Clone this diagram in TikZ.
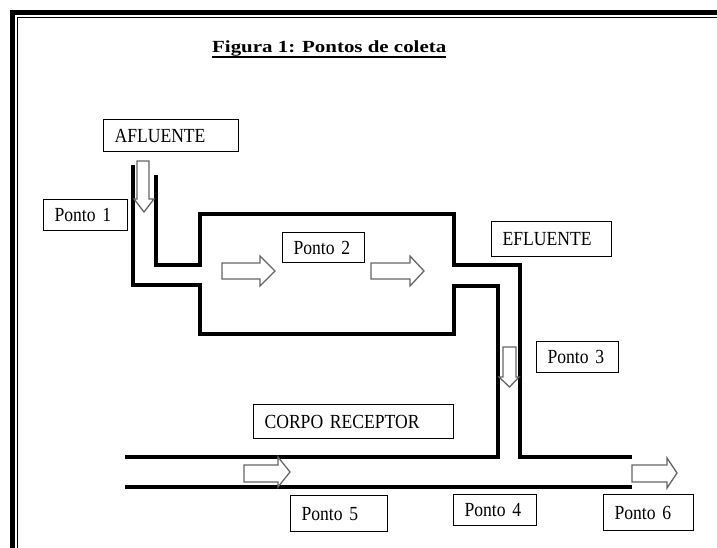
\documentclass[tikz,border=0pt]{standalone}
\usepackage{fontspec}
\setmainfont{Liberation Serif}
\newfontfamily\titlefont{Liberation Serif}[FakeStretch=1.23]
\newfontfamily\labelfont{Liberation Serif}[FakeStretch=0.88]
\begin{document}
\begin{tikzpicture}[x=1pt,y=-1pt,
  box/.style={draw, line width=1.1pt, inner xsep=11pt, inner ysep=0pt, align=left,
    anchor=north west, font=\labelfont\fontsize{20}{22}\selectfont},
  pipe/.style={line width=3.6pt, line join=miter, line cap=butt},
  flowarrow/.style={draw=black!60, line width=1.3pt, line join=miter}]
\useasboundingbox (0,0) rectangle (717,548);
\fill[white] (0,0) rectangle (717,548);
% frame
\draw[line width=5pt] (12.5,548) -- (12.5,12.5) -- (717,12.5);
\draw[line width=1.2pt] (17.5,548) -- (17.5,17.5) -- (717,17.5);
% title
\node[anchor=base west, inner sep=0pt, font=\fontsize{17}{20}\selectfont] (title) at (212,53) {\titlefont\bfseries Figura 1: Pontos de coleta};
\draw[line width=1.4pt] ([yshift=-4pt]title.base west) -- ([yshift=-4pt]title.base east);
% pipes
\draw[pipe] (133,165) -- (133,285) -- (200,285) -- (200,334) -- (454,334) -- (454,286)
  -- (498,286) -- (498,457) -- (125,457);
\draw[pipe] (156,175) -- (156,265) -- (200,265) -- (200,214) -- (454,214) -- (454,265)
  -- (520,265) -- (520,457) -- (632,457);
\draw[pipe] (125,487) -- (632,487);
% flow arrows
\draw[flowarrow] (137,161) -- (149,161) -- (149,199) -- (154,199) -- (144,212) -- (134,199) -- (137,199) -- cycle;
\draw[flowarrow] (503,347) -- (516,347) -- (516,377) -- (519,377) -- (509.5,387) -- (499,377) -- (503,377) -- cycle;
\draw[flowarrow] (222,263) -- (260,263) -- (260,256) -- (275,271) -- (260,286) -- (260,279) -- (222,279) -- cycle;
\draw[flowarrow] (371,263) -- (410,263) -- (410,256) -- (424,271) -- (410,286) -- (410,279) -- (371,279) -- cycle;
\draw[flowarrow] (244,465) -- (278,465) -- (278,457) -- (290,472) -- (278,487) -- (278,482) -- (244,482) -- cycle;
\draw[flowarrow] (632,465) -- (667,465) -- (667,458) -- (677,473) -- (667,488) -- (667,482) -- (632,482) -- cycle;
% labels
\node[box, text width=113pt, minimum height=32pt] (afl) at (103,119) {AFLUENTE};
\node[box, text width=62pt, minimum height=31pt] (p1) at (43,199) {Ponto 1};
\node[box, text width=60pt, minimum height=30pt] (p2) at (282,232) {Ponto 2};
\node[box, text width=98pt, minimum height=35pt] (efl) at (491,221) {EFLUENTE};
\node[box, text width=60pt, minimum height=31pt] (p3) at (536,341) {Ponto 3};
\node[box, text width=178pt, minimum height=34pt] (corpo) at (253,404) {CORPO RECEPTOR};
\node[box, text width=75pt, minimum height=36pt] (p5) at (290,495) {Ponto 5};
\node[box, text width=61pt, minimum height=31pt] (p4) at (453,494) {Ponto 4};
\node[box, text width=68pt, minimum height=36pt] (p6) at (603,494) {Ponto 6};
\end{tikzpicture}
\end{document}
